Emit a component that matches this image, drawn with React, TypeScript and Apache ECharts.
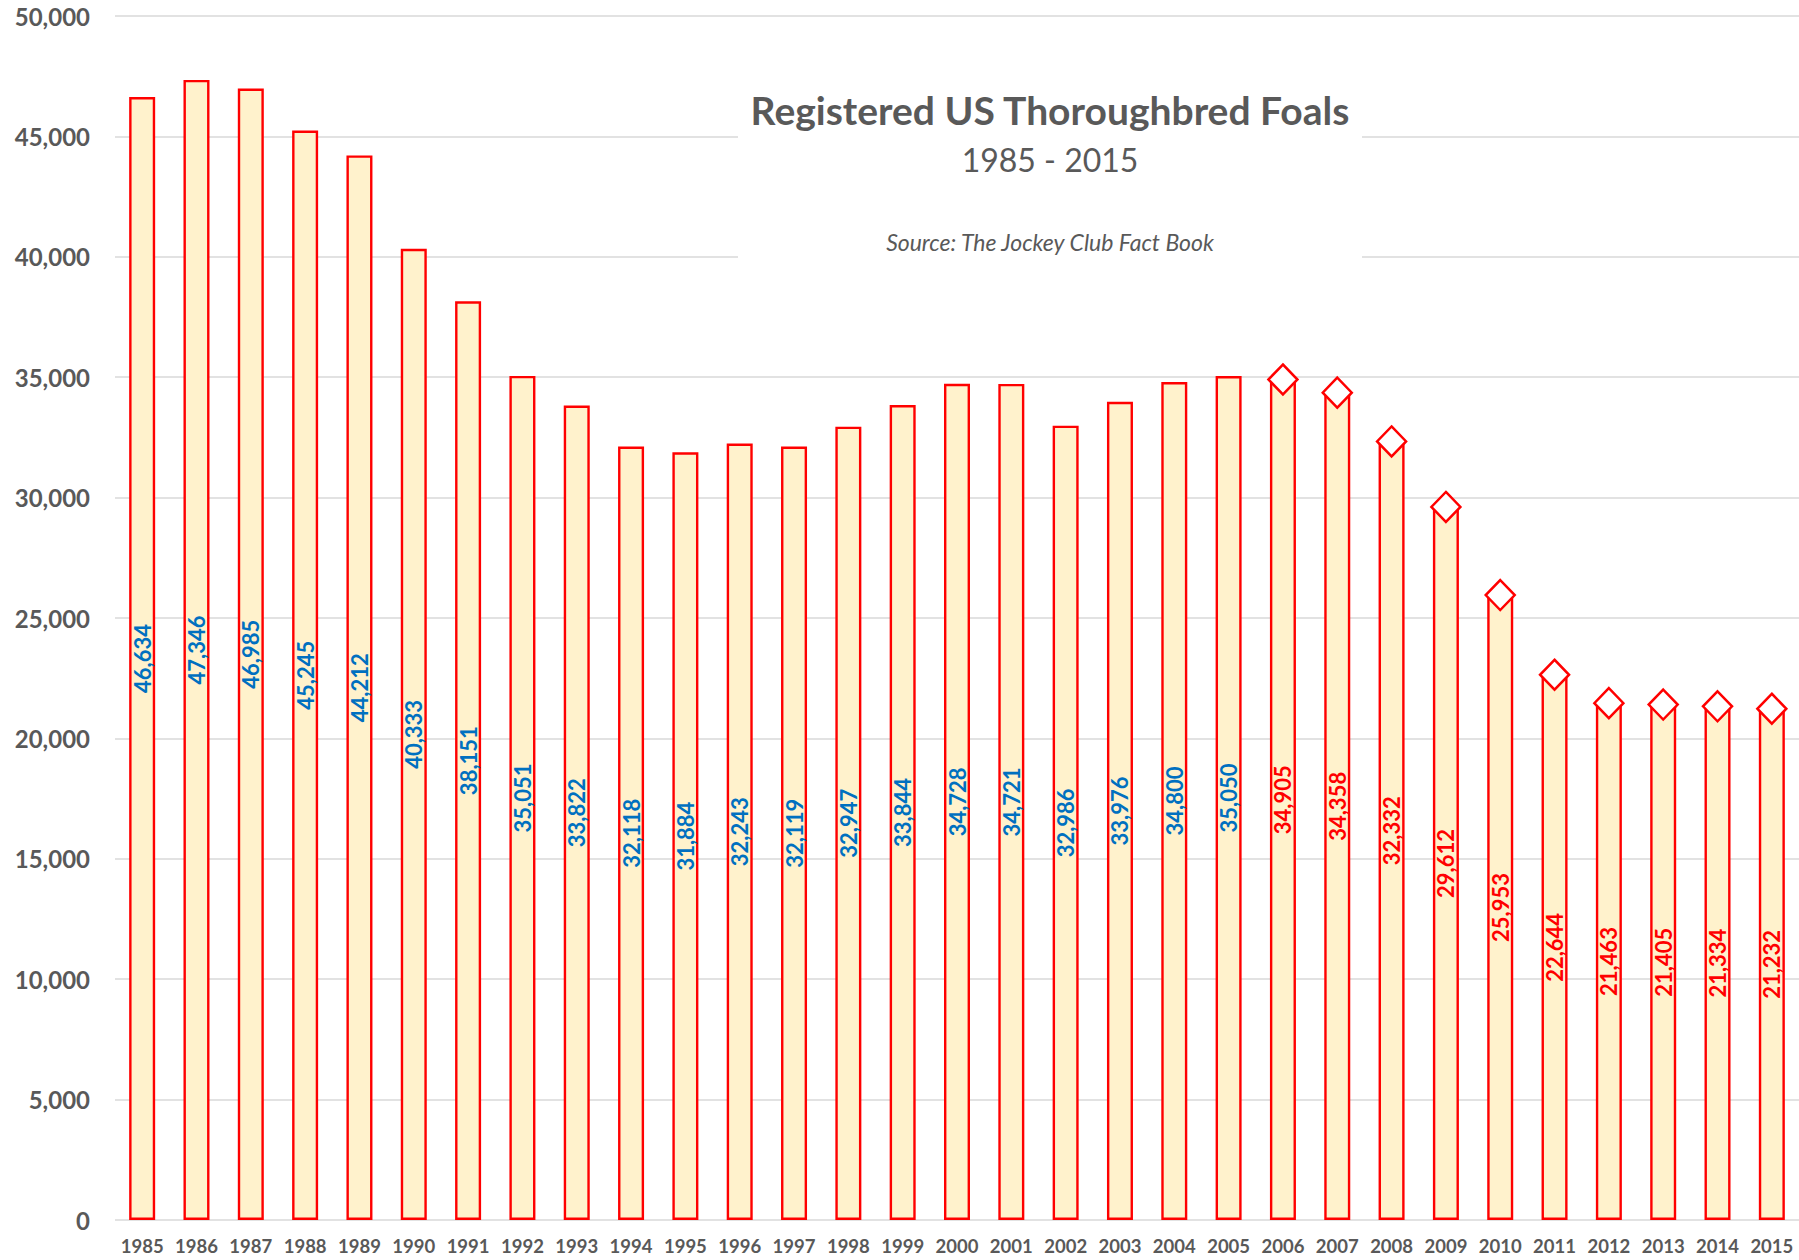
import React, { useEffect, useRef } from "react";
import * as echarts from "echarts";

const years = [
  "1985", "1986", "1987", "1988", "1989", "1990", "1991", "1992", "1993", "1994",
  "1995", "1996", "1997", "1998", "1999", "2000", "2001", "2002", "2003", "2004",
  "2005", "2006", "2007", "2008", "2009", "2010", "2011", "2012", "2013", "2014", "2015",
];
const foals = [
  46634, 47346, 46985, 45245, 44212, 40333, 38151, 35051, 33822, 32118,
  31884, 32243, 32119, 32947, 33844, 34728, 34721, 32986, 33976, 34800,
  35050, 34905, 34358, 32332, 29612, 25953, 22644, 21463, 21405, 21334, 21232,
];
const highlightFrom = "2006";
const titleText = "Registered US Thoroughbred Foals";
const subtitleText = "1985 - 2015";
const sourceText = "Source: The Jockey Club Fact Book";

const FONT = "Lato, 'Open Sans', sans-serif";
const GRAY = "#595959";
const BLUE = "#0070C0";
const RED = "#FF0000";

export default function App() {
  const ref = useRef<HTMLDivElement>(null);
  useEffect(() => {
    document.body.style.margin = "0";
    const chart = echarts.init(ref.current!, undefined, { renderer: "svg" });
    const hiIdx = years.indexOf(highlightFrom);
    const barData = foals.map((v, i) => ({
      value: v,
      label: { color: i >= hiIdx ? RED : BLUE },
    }));
    const diamondData = foals.map((v, i) => (i >= hiIdx ? v : null));
    chart.setOption({
      animation: false,
      backgroundColor: "#ffffff",
      grid: { left: 115, right: 0, top: 16, bottom: 40, containLabel: false },
      xAxis: {
        type: "category",
        data: years,
        axisLine: { show: false },
        axisTick: { show: false },
        axisLabel: {
          interval: 0,
          color: GRAY,
          fontFamily: FONT,
          fontWeight: "bold",
          fontSize: 18.5,
          margin: 16,
        },
      },
      yAxis: {
        type: "value",
        min: 0,
        max: 50000,
        interval: 5000,
        axisLine: { show: false },
        axisTick: { show: false },
        splitLine: { lineStyle: { color: "#D9D9D9", width: 1.5 } },
        axisLabel: {
          color: GRAY,
          fontFamily: FONT,
          fontWeight: "bold",
          fontSize: 24,
          margin: 25,
          formatter: (v: number) => v.toLocaleString("en-US"),
        },
      },
      graphic: [
        {
          type: "rect",
          shape: { x: 738, y: 60, width: 624, height: 215 },
          style: { fill: "#ffffff" },
          z: 5,
        },
        {
          type: "text",
          x: 1050,
          y: 110,
          z: 6,
          style: {
            text: titleText,
            fill: GRAY,
            font: `bold 39px ${FONT}`,
            textAlign: "center",
            textVerticalAlign: "middle",
          },
        },
        {
          type: "text",
          x: 1050,
          y: 159,
          z: 6,
          style: {
            text: subtitleText,
            fill: GRAY,
            font: `32px ${FONT}`,
            textAlign: "center",
            textVerticalAlign: "middle",
          },
        },
        {
          type: "text",
          x: 1050,
          y: 242,
          z: 6,
          style: {
            text: sourceText,
            fill: GRAY,
            font: `italic 23px ${FONT}`,
            textAlign: "center",
            textVerticalAlign: "middle",
          },
        },
      ],
      series: [
        {
          type: "bar",
          data: barData,
          barWidth: 26,
          itemStyle: { color: "#FFF2CC", borderColor: RED, borderWidth: 2.4 },
          label: {
            show: true,
            position: "inside",
            rotate: 90,
            fontFamily: FONT,
            fontWeight: "bold",
            fontSize: 22,
            formatter: (p: any) => Number(p.value).toLocaleString("en-US"),
          },
          z: 2,
        },
        {
          type: "scatter",
          data: diamondData,
          symbol: "diamond",
          symbolSize: [29, 30],
          itemStyle: { color: "#ffffff", borderColor: RED, borderWidth: 2.5, opacity: 1 },
          z: 3,
        },
      ],
    });
    return () => chart.dispose();
  }, []);
  return <div ref={ref} style={{ width: 1799, height: 1260 }} />;
}
